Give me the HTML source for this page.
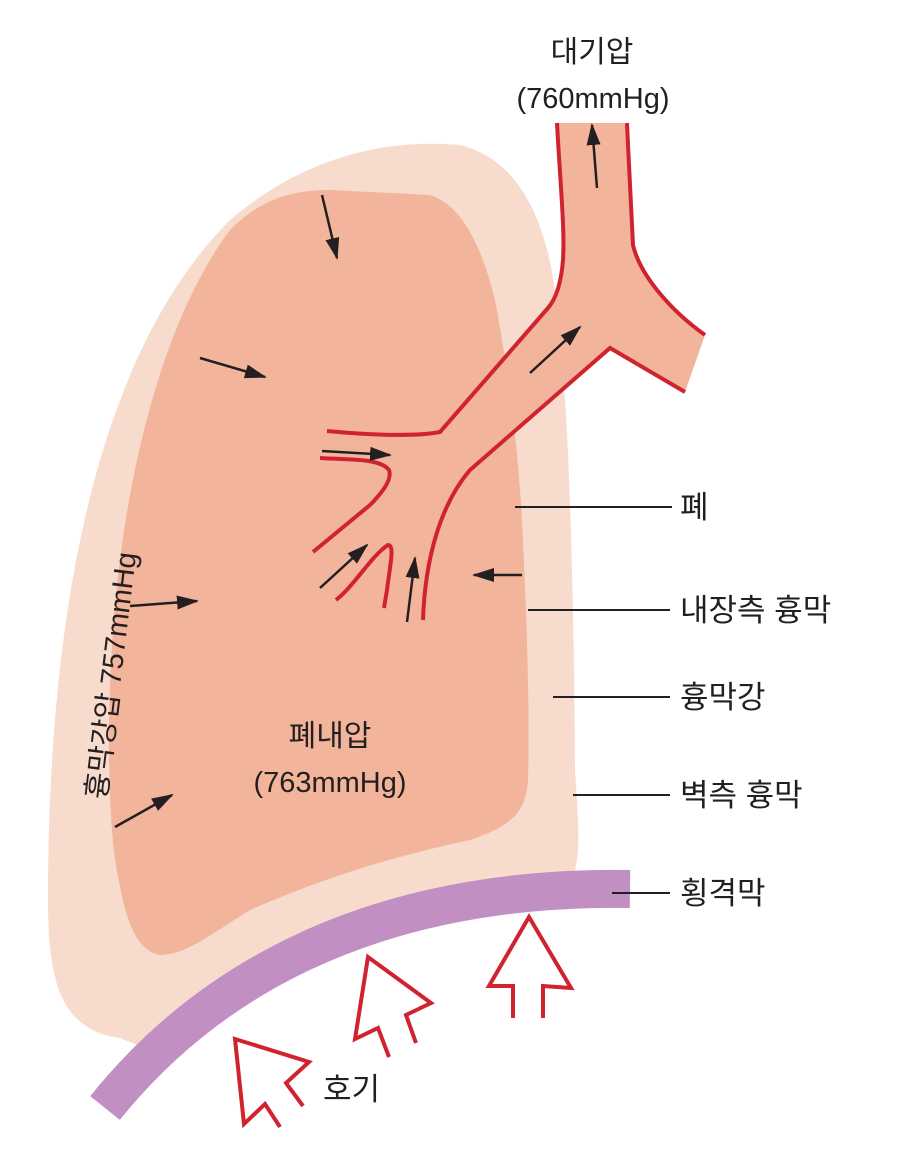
<!DOCTYPE html>
<html><head><meta charset="utf-8"><style>
html,body{margin:0;padding:0;background:#fff;}
svg{display:block;}
text{font-family:"Liberation Sans","Noto Sans CJK KR",sans-serif;fill:#231f20;}
</style></head><body>
<svg width="903" height="1156" viewBox="0 0 903 1156" xmlns="http://www.w3.org/2000/svg">
<defs>
<marker id="ah2" markerWidth="22" markerHeight="14" refX="20" refY="7" orient="auto" markerUnits="userSpaceOnUse">
<path d="M0,0 L22,7 L0,14 Z" fill="#231f20"/></marker>
</defs>
<!-- outer pleura -->
<path d="M120,1038 C60,1030 48,980 48,900 C48,600 100,350 230,220 C300,160 380,138 460,145 C520,160 545,220 555,290 L565,400 C572,500 575,700 575,770 C578,820 582,855 572,880 C480,885 380,895 300,935 C220,975 180,1020 150,1050 Z" fill="#f7dccd"/>
<!-- lung -->
<path d="M230,230 C260,200 290,190 330,190 L430,195 C460,205 480,240 495,300 C510,380 518,450 522,520 C527,620 530,720 528,780 C526,810 515,825 470,840 C400,855 330,875 250,910 C210,935 185,955 160,955 C135,950 125,920 115,860 C105,780 108,650 120,560 C135,440 170,310 230,230 Z" fill="#f2b59b"/>
<!-- trachea fill -->
<path d="M557,123 L627,123 L632,245 C640,280 670,310 705,335 L685,392 L610,348 L470,470 C440,505 425,560 423,620 L385,610 L390,545 L337,598 L315,568 L390,475 L320,457 L323,430 L440,432 L555,300 C565,270 562,200 557,123 Z" fill="#f2b59b"/>
<g fill="none" stroke="#d0232f" stroke-width="4" stroke-linecap="butt">
<path d="M557,123 C560,180 565,230 563,260 C561,285 555,300 548,308 L440,432 C420,436 380,436 327,431"/>
<path d="M627,123 C629,170 632,220 633,245 C640,275 670,310 705,335"/>
<path d="M685,392 L610,348 L470,470 C440,505 425,560 423,620"/>
<path d="M320,458 C350,460 380,458 389,470 C392,478 385,490 370,505 L313,552"/>
<path d="M336,600 C355,585 372,555 388,545 C395,545 390,565 387,590 L384,608"/>
</g>
<!-- black arrows -->
<g stroke="#231f20" stroke-width="2.5" fill="none">
<line x1="322" y1="195" x2="337" y2="258" marker-end="url(#ah2)"/>
<line x1="200" y1="358" x2="265" y2="377" marker-end="url(#ah2)"/>
<line x1="130" y1="606" x2="197" y2="601" marker-end="url(#ah2)"/>
<line x1="115" y1="827" x2="172" y2="795" marker-end="url(#ah2)"/>
<line x1="322" y1="451" x2="390" y2="455" marker-end="url(#ah2)"/>
<line x1="320" y1="588" x2="367" y2="545" marker-end="url(#ah2)"/>
<line x1="407" y1="622" x2="415" y2="558" marker-end="url(#ah2)"/>
<line x1="522" y1="575" x2="474" y2="575" marker-end="url(#ah2)"/>
<line x1="530" y1="373" x2="580" y2="327" marker-end="url(#ah2)"/>
<line x1="597" y1="188" x2="592" y2="125" marker-end="url(#ah2)"/>
</g>
<!-- leader lines -->
<g stroke="#231f20" stroke-width="2">
<line x1="515" y1="507" x2="672" y2="507"/>
<line x1="528" y1="610" x2="670" y2="610"/>
<line x1="553" y1="697" x2="670" y2="697"/>
<line x1="573" y1="795" x2="670" y2="795"/>
</g>
<!-- diaphragm -->
<path d="M105,1108 C200,990 360,885 630,889" fill="none" stroke="#c28fc2" stroke-width="38"/>
<line x1="612" y1="893" x2="670" y2="893" stroke="#231f20" stroke-width="2"/>
<!-- red hollow arrows -->
<g fill="none" stroke="#d0232f" stroke-width="4" stroke-linejoin="miter">
<path d="M513,1018 L513,986 L489,986 L529,917 L571,988 L543,986 L543,1018"/>
<path d="M389,1057 L378,1028 L355,1039 L368,957 L431,1003 L406,1015 L416,1043"/>
<path d="M280,1127 L265,1104 L244,1124 L235,1039 L309,1062 L286,1083 L303,1106"/>
</g>
<!-- text -->
<g font-size="30">
<text x="592" y="62" text-anchor="middle">대기압</text>
<text x="593" y="108" text-anchor="middle" font-size="29">(760mmHg)</text>
<text x="330" y="746" text-anchor="middle">폐내압</text>
<text x="330" y="792" text-anchor="middle" font-size="29">(763mmHg)</text>
<text x="680" y="518" font-size="31">폐</text>
<text x="680" y="621" font-size="31">내장측 흉막</text>
<text x="680" y="708" font-size="31">흉막강</text>
<text x="680" y="806" font-size="31">벽측 흉막</text>
<text x="680" y="904" font-size="31">횡격막</text>
<text x="323" y="1100" font-size="31">호기</text>
<text transform="translate(106,800) rotate(-83)" font-size="29">흉막강압 757mmHg</text>
</g>
</svg>
</body></html>
